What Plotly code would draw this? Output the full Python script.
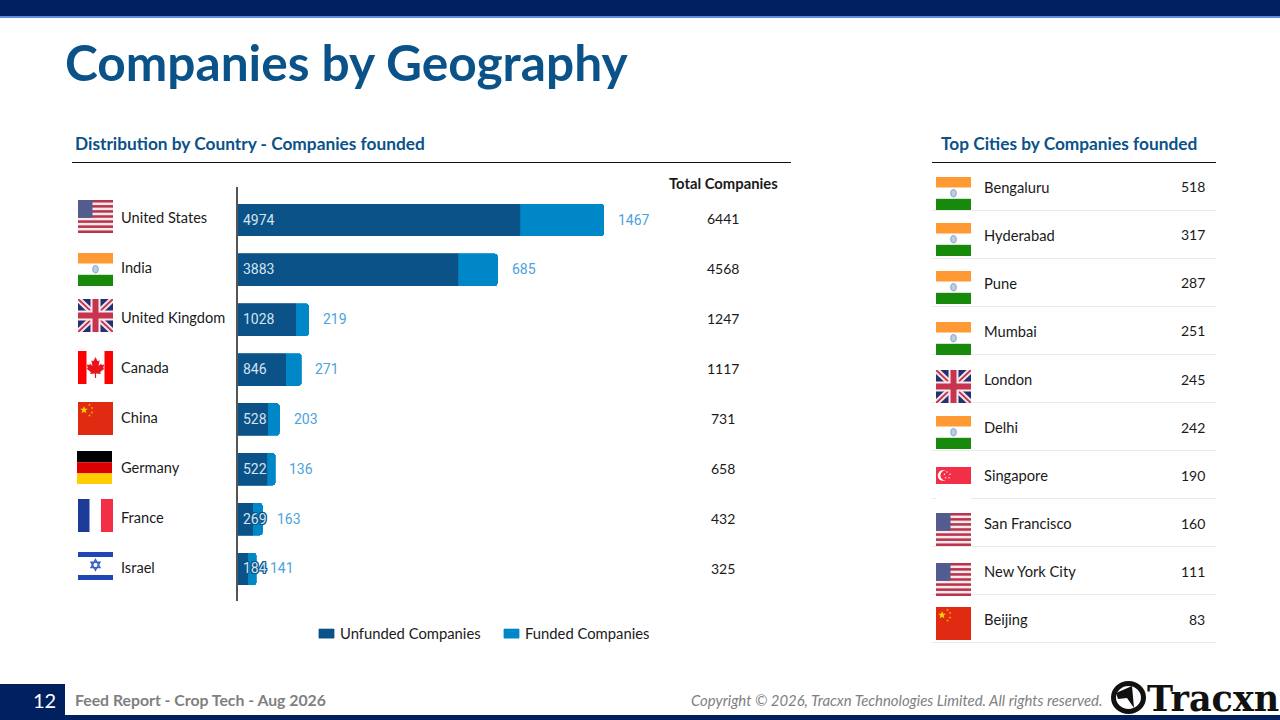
import base64
import math
import plotly.graph_objects as go

W, H = 1280, 720
NAVY = "#002060"
BLUE = "#0A5288"
MID = "#0087C7"
SANS = "Lato"
INK = "#1A1A1A"

countries = ["United States", "India", "United Kingdom", "Canada", "China", "Germany", "France", "Israel"]
unfunded = [4974, 3883, 1028, 846, 528, 522, 269, 184]
funded = [1467, 685, 219, 271, 203, 136, 163, 141]
totals = [6441, 4568, 1247, 1117, 731, 658, 432, 325]
country_flags = ["us", "in", "gb", "ca", "cn", "de", "fr", "il"]

cities = ["Bengaluru", "Hyderabad", "Pune", "Mumbai", "London", "Delhi", "Singapore",
          "San Francisco", "New York City", "Beijing"]
city_counts = [518, 317, 287, 251, 245, 242, 190, 160, 111, 83]
city_flags = ["in", "in", "in", "in", "gb", "in", "sg", "us", "us", "cn"]


def star(cx, cy, r, fill):
    pts = []
    for i in range(10):
        rr = r if i % 2 == 0 else r * 0.42
        a = -math.pi / 2 + i * math.pi / 5
        pts.append(f"{cx + rr * math.cos(a):.2f},{cy + rr * math.sin(a):.2f}")
    return f'<polygon points="{" ".join(pts)}" fill="{fill}"/>'


def flag_svg(code):
    b = ""
    if code == "us":
        b += '<rect width="35" height="33" fill="#F4E9EC"/>'
        for i in range(0, 13, 2):
            b += f'<rect y="{i * 33 / 13:.2f}" width="35" height="{33 / 13:.2f}" fill="#B9344C"/>'
        b += '<rect width="14.5" height="17.8" fill="#535C8F"/>'
    elif code == "in":
        b += '<rect width="35" height="33" fill="#FFFFFF"/><rect width="35" height="10.5" fill="#FF9933"/>'
        b += '<rect y="21.8" width="35" height="11.2" fill="#178A0C"/>'
        b += '<ellipse cx="17.5" cy="16.2" rx="2.8" ry="3.8" fill="#BCCDE6" stroke="#7F9CCE" stroke-width="0.9"/>'
    elif code == "gb":
        b += '<rect width="35" height="33" fill="#24306F"/>'
        b += '<path d="M0 0L35 33M35 0L0 33" stroke="#F1E6EA" stroke-width="6"/>'
        b += '<path d="M0 0L35 33M35 0L0 33" stroke="#C8344E" stroke-width="2"/>'
        b += '<path d="M17.5 0V33M0 16.5H35" stroke="#F5ECEE" stroke-width="10"/>'
        b += '<path d="M17.5 0V33M0 16.5H35" stroke="#C8344E" stroke-width="6"/>'
    elif code == "ca":
        b += '<rect width="35" height="33" fill="#FFFFFF"/><rect width="8.5" height="33" fill="#FF0000"/>'
        b += '<rect x="26.5" width="8.5" height="33" fill="#FF0000"/>'
        b += ('<path fill="#E8141C" d="M17.5 6L15.4 10.2L13.4 9.2L14.4 15L11.9 12.6L11.4 14L8.8 13.6L9.8 17L8.6 17.8'
              'L12.8 21L12.2 23L16.9 22.5V27H18.1V22.5L22.8 23L22.2 21L26.4 17.8L25.2 17L26.2 13.6L23.6 14L23.1 12.6'
              'L20.6 15L21.6 9.2L19.6 10.2Z"/>')
    elif code == "cn":
        b += '<rect width="35" height="33" fill="#E02B12"/>'
        b += star(6, 8, 4, "#FFD800")
        for x, y in [(11.5, 3), (14, 6), (14, 10.5), (11.5, 13.5)]:
            b += star(x, y, 1.4, "#F7B500")
    elif code == "de":
        b += '<rect width="35" height="11.2" fill="#000000"/><rect y="11.2" width="35" height="11.2" fill="#DD0000"/>'
        b += '<rect y="22.4" width="35" height="10.6" fill="#FFCE00"/>'
    elif code == "fr":
        b += '<rect width="35" height="33" fill="#FFFFFF"/><rect width="11.5" height="33" fill="#1E3A98"/>'
        b += '<rect x="23" width="12" height="33" fill="#F22F46"/>'
    elif code == "il":
        b += '<rect width="35" height="33" fill="#FFFFFF"/><rect width="35" height="5" fill="#1E46B4"/>'
        b += '<rect y="23" width="35" height="5" fill="#1E46B4"/>'
        b += ('<path d="M17.5 7.5L22 15.6H13Z M17.5 18.2L22 10.2H13Z" fill="none" stroke="#3A62C4" stroke-width="1.4"/>')
    elif code == "sg":
        b += '<rect width="35" height="33" fill="#FFFFFF"/><rect width="35" height="16.5" fill="#F22F46"/>'
        b += '<circle cx="7" cy="8.2" r="5.2" fill="#FFFFFF"/><circle cx="9.2" cy="8.2" r="4.8" fill="#F22F46"/>'
        for x, y in [(11, 4.8), (14, 7), (13, 10.5), (9.5, 10.5), (8.5, 7)]:
            b += f'<circle cx="{x}" cy="{y}" r="0.7" fill="#FFFFFF"/>'
    svg = (f'<svg xmlns="http://www.w3.org/2000/svg" width="140" height="132" viewBox="0 0 35 33" '
           f'preserveAspectRatio="none">{b}</svg>')
    return "data:image/svg+xml;base64," + base64.b64encode(svg.encode()).decode()


def px(x):
    return x / W


def py(y):
    return 1 - y / H


annotations, shapes, images = [], [], []


def text(x, y, s, size, color, anchor="left", bold=False, italic=False, family=SANS):
    annotations.append(dict(
        xref="paper", yref="paper", x=px(x), y=py(y), text=s, showarrow=False,
        xanchor=anchor, yanchor="middle", borderpad=0,
        font=dict(family=family, size=size, color=color, weight=700 if bold else 400,
                  style="italic" if italic else "normal")))


def rect(x0, y0, x1, y1, color):
    shapes.append(dict(type="rect", xref="paper", yref="paper", x0=px(x0), x1=px(x1),
                       y0=py(y0), y1=py(y1), fillcolor=color, line=dict(width=0), layer="below"))


def hline(x0, x1, y, color, width=1):
    shapes.append(dict(type="line", xref="paper", yref="paper", x0=px(x0), x1=px(x1),
                       y0=py(y), y1=py(y), line=dict(color=color, width=width), layer="below"))


def flag(code, x, top, w=35, h=33):
    images.append(dict(source=flag_svg(code), xref="paper", yref="paper", x=px(x), y=py(top),
                       sizex=w / W, sizey=h / H, sizing="stretch", xanchor="left", yanchor="top",
                       layer="above"))


# Page furniture
rect(0, 0, W, 16, NAVY)
rect(0, 16, W, 18, "#5B8FDB")
rect(0, 715, W, H, NAVY)
rect(0, 684, 65, H, NAVY)

text(64, 62, "Companies by Geography", 49.6, BLUE, bold=True)
text(73.5, 143.5, "Distribution by Country - Companies founded", 17.3, BLUE, bold=True)
text(939.5, 143.5, "Top Cities by Companies founded", 17.3, BLUE, bold=True)
hline(72, 791, 162.5, "#111111")
hline(932, 1216, 162.5, "#111111")
text(723, 182.5, "Total Companies", 14.8, INK, anchor="center", bold=True)

left_tops = [200, 253, 299, 351, 402, 451, 499, 552]
for i, code in enumerate(country_flags):
    flag(code, 77 if code == "de" else 78, left_tops[i])

fig = go.Figure()
fig.add_bar(y=countries, x=unfunded, orientation="h", name="Unfunded Companies",
            marker=dict(color=BLUE, line=dict(color=BLUE, width=0.8)))
fig.add_bar(y=countries, x=funded, orientation="h", name="Funded Companies",
            marker=dict(color=MID, line=dict(color=MID, width=0.8)))

halo = ", ".join(f"{dx}px {dy}px 0 {BLUE}" for dx in (-1, 0, 1) for dy in (-1, 0, 1) if dx or dy)
for i, (name, u, f, t) in enumerate(zip(countries, unfunded, funded, totals)):
    text(119.5, 217 + 50.14 * i, name, 14.6, INK)
    text(723, 218.5 + 50 * i, str(t), 14, INK, anchor="center")
    annotations.append(dict(xref="x", yref="y", x=0, y=name, xshift=4, yshift=0.5, text=str(u), showarrow=False,
                            xanchor="left", yanchor="middle", borderpad=0,
                            font=dict(family="Roboto", size=14, color="#D6E3EE", shadow=halo)))
    annotations.append(dict(xref="x", yref="y", x=t, y=name, xshift=13, yshift=0.5, text=str(f), showarrow=False,
                            xanchor="left", yanchor="middle", borderpad=0,
                            font=dict(family="Roboto", size=14, color="#4BA3DC")))

# City list
city_tops = [177, 223, 271, 322, 370, 416, 467, 513, 563, 607]
for i, (c, n, code) in enumerate(zip(cities, city_counts, city_flags)):
    yc = 186.8 + 48 * i
    flag(code, 936, city_tops[i], 35, 34 if code == "sg" else 33)
    text(982.5, yc, c, 14.7, INK)
    text(1206, yc + 0.2, str(n), 14, INK, anchor="right")
    hline(932, 1216, 210.5 + 48 * i, "#E9E9E9")

# Footer
text(44, 700, "12", 20, "#FFFFFF", anchor="center")
text(73.5, 699.5, "Feed Report - Crop Tech - Aug 2026", 15.8, "#7F7F7F", bold=True)
text(1103, 700, "Copyright © 2026, Tracxn Technologies Limited. All rights reserved.", 14.9, "#7F7F7F",
     anchor="right", italic=True)
text(1146, 698, "Tracxn", 35, "#111111", bold=True, family="DejaVu Serif")
shapes.append(dict(type="circle", xref="paper", yref="paper", x0=px(1113.5), x1=px(1143.5), y0=py(683.5), y1=py(711.5),
                   fillcolor="#FFFFFF", line=dict(color="#111111", width=5)))
shapes.append(dict(type="path", xref="paper", yref="paper",
                   path=f"M {px(1116)} {py(693)} L {px(1132)} {py(686)} L {px(1134)} {py(708)} "
                        f"L {px(1127)} {py(698)} L {px(1118)} {py(699)} Z",
                   fillcolor="#111111", line=dict(width=0)))

fig.update_layout(
    width=W, height=H, margin=dict(l=0, r=0, t=0, b=0, pad=0),
    paper_bgcolor="#FFFFFF", plot_bgcolor="rgba(0,0,0,0)",
    barmode="stack", bargap=0.36, barcornerradius=3,
    xaxis=dict(domain=[px(238), px(800)], range=[0, 9891], visible=False, fixedrange=True),
    yaxis=dict(domain=[py(601), py(186.7)], range=[7.642, -0.668], type="category",
               showline=True, linecolor="#555555", linewidth=1.5, showticklabels=False,
               ticks="", showgrid=False, zeroline=False, fixedrange=True),
    legend=dict(orientation="h", xref="paper", yref="paper", x=px(300), y=py(634), xanchor="left", yanchor="middle",
                entrywidth=140, entrywidthmode="pixels", itemclick=False, itemdoubleclick=False,
                font=dict(family=SANS, size=14.8, color=INK), bgcolor="rgba(0,0,0,0)", traceorder="normal"),
    annotations=annotations, shapes=shapes, images=images,
    showlegend=True,
)

post = """
document.body.style.margin='0';document.body.style.overflow='hidden';
var gd=document.getElementById('{plot_id}');
function fixSwatches(){
  gd.querySelectorAll('g.legendpoints path').forEach(function(p){
    p.setAttribute('d','M7.5,4.5H-7.5V-4.5H7.5Z');
    p.setAttribute('transform','translate(26.5,0)');
  });
}
fixSwatches();
[0,20,50,100,200,400,800].forEach(function(t){setTimeout(fixSwatches,t);});
if(gd.on){gd.on('plotly_afterplot',fixSwatches);}
"""
fig.write_html("out.html", config={"displayModeBar": False}, post_script=post)
